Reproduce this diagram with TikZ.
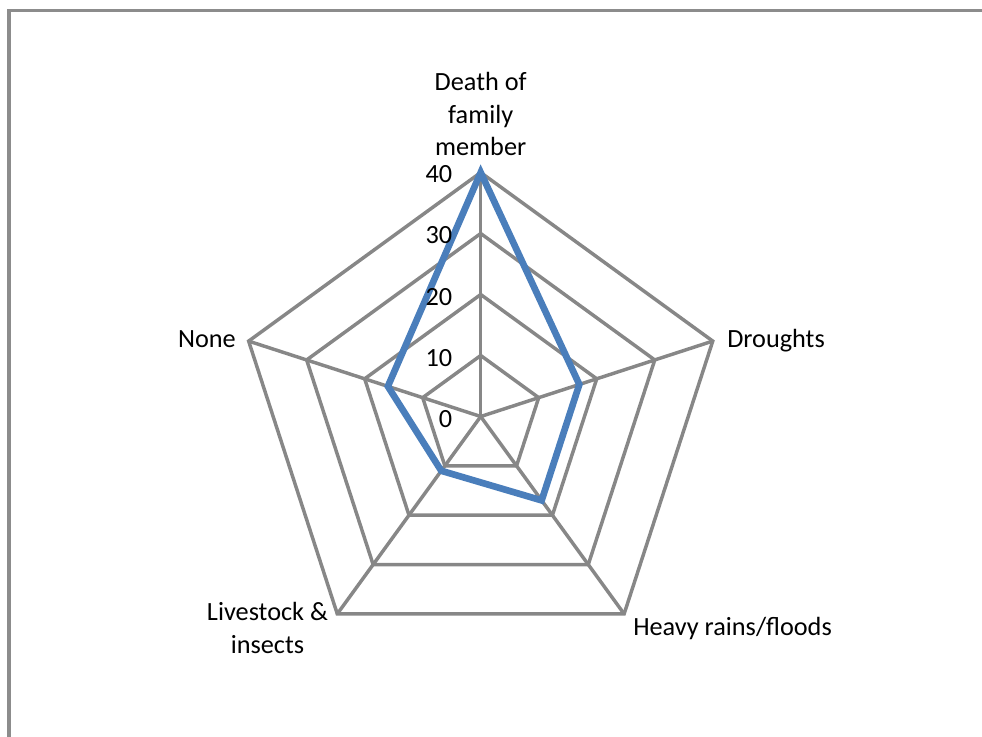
\documentclass[tikz,border=0pt]{standalone}
\usepackage{fontspec}
\setmainfont{Carlito}
\usetikzlibrary{calc}
\definecolor{gridgray}{HTML}{878787}
\definecolor{framegray}{HTML}{8C8C8C}
\definecolor{seriesblue}{HTML}{4A7EBB}
\begin{document}
\begin{tikzpicture}[x=0.75pt,y=-0.75pt,
  gridline/.style={draw=gridgray, line width=2.6pt},
  serieline/.style={draw=seriesblue, line width=5pt, line join=miter},
  lbl/.style={inner sep=0pt, font=\fontsize{19.7}{24.5}\selectfont, text=black},
  ticklbl/.style={lbl, anchor=east}]
\useasboundingbox (0,0) rectangle (982,736);
\draw[draw=framegray, line width=2.3pt] (9,10.5) rectangle (1000,760);
\coordinate (C) at (480.7,416.5);
% axis directions (y axis points down)
\foreach \n/\a in {A/-90,B/-18,D/54,E/126,F/198}{
  \foreach \k in {1,2,3,4}{
    \coordinate (\n\k) at ($(C)+(\a:61*\k)$);
  }
}
\foreach \k in {1,2,3,4}{
  \draw[gridline] (A\k) -- (B\k) -- (D\k) -- (E\k) -- (F\k) -- cycle;
}
\foreach \n in {A,B,D,E,F}{
  \draw[gridline] (C) -- (\n4);
}
% data: 40, 17, 17, 11, 16
\coordinate (pA) at ($(C)+(-90:244)$);
\coordinate (pB) at ($(C)+(-18:6.1*17)$);
\coordinate (pD) at ($(C)+(54:6.1*17)$);
\coordinate (pE) at ($(C)+(126:6.1*11)$);
\coordinate (pF) at ($(C)+(198:6.1*16)$);
\draw[serieline] (pA) -- (pB) -- (pD) -- (pE) -- (pF) -- cycle;
% tick labels
\node[ticklbl] (t0) at (452.5,419) {0};
\node[ticklbl] (t10) at (452.5,358) {10};
\node[ticklbl] (t20) at (452.5,297) {20};
\node[ticklbl] (t30) at (452.5,235.5) {30};
\node[ticklbl] (t40) at (452.5,174.5) {40};
% category labels
\node[lbl, anchor=north, align=center] (death) at (480.7,72) {Death of\\family\\member};
\node[lbl, anchor=base west] (drought) at (727,347.7) {Droughts};
\node[lbl, anchor=base west] (rain) at (633,635) {Heavy rains/floods};
\node[lbl, anchor=north, align=center] (live) at (267.5,602) {Livestock \&\\insects};
\node[lbl, anchor=base east] (none) at (236,347.3) {None};
\end{tikzpicture}
\end{document}
